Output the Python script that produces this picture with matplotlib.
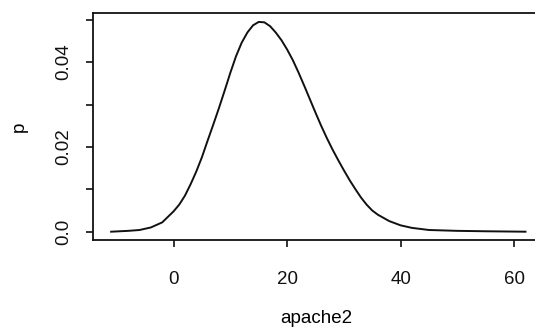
import matplotlib
matplotlib.use("Agg")
import matplotlib.pyplot as plt

# density curve
apache2 = [-11, -8, -6, -4, -2, 0, 1, 2, 3, 4, 5, 6, 7, 8, 9, 10, 11, 12, 13, 14,
           15, 16, 17, 18, 19, 20, 21, 22, 23, 24, 25, 26, 27, 28, 29, 30, 31, 32,
           33, 34, 35, 36, 38, 40, 42, 45, 50, 55, 62]
p = [0.0000, 0.0002, 0.0004, 0.0010, 0.0022, 0.0048, 0.0064, 0.0085, 0.0112, 0.0142,
     0.0176, 0.0215, 0.0253, 0.0292, 0.0333, 0.0375, 0.0414, 0.0446, 0.0470, 0.0487,
     0.0495, 0.0494, 0.0485, 0.0470, 0.0452, 0.0430, 0.0405, 0.0376, 0.0345, 0.0313,
     0.0281, 0.0250, 0.0221, 0.0194, 0.0169, 0.0145, 0.0122, 0.0101, 0.0081, 0.0064,
     0.0050, 0.0040, 0.0025, 0.0015, 0.0009, 0.0004, 0.0002, 0.0001, 0.0000]

xticks = [0, 20, 40, 60]
yticks = [0.0, 0.01, 0.02, 0.03, 0.04, 0.05]
ylabels = ["0.0", "", "0.02", "", "0.04", ""]

plt.rcParams['font.family'] = ['Liberation Sans', 'DejaVu Sans']

fig = plt.figure(figsize=(5.35, 3.32), dpi=100)
ax = fig.add_axes([0.1738, 0.2771, 0.836, 0.6837])

ax.plot(apache2, p, color='#111111', lw=1.4)

ax.set_xlim(-14.2, 64.6)
ax.set_ylim(-0.00196, 0.0516)
ax.set_xticks(xticks)
ax.set_xticklabels([str(t) for t in xticks])
ax.set_yticks(yticks)
ax.set_yticklabels(ylabels, rotation=90, va='center')

for s in ax.spines.values():
    s.set_linewidth(1.3)
    s.set_color('#111111')

ax.tick_params(axis='both', direction='out', length=5, width=1.2, colors='#111111',
               labelsize=13.5)
ax.tick_params(axis='x', pad=17)
ax.tick_params(axis='y', pad=10)

ax.set_xlabel("apache2", fontsize=13.5, labelpad=16)
ax.set_ylabel("p", fontsize=13.5, labelpad=20)

fig.savefig("out.png", dpi=100)
